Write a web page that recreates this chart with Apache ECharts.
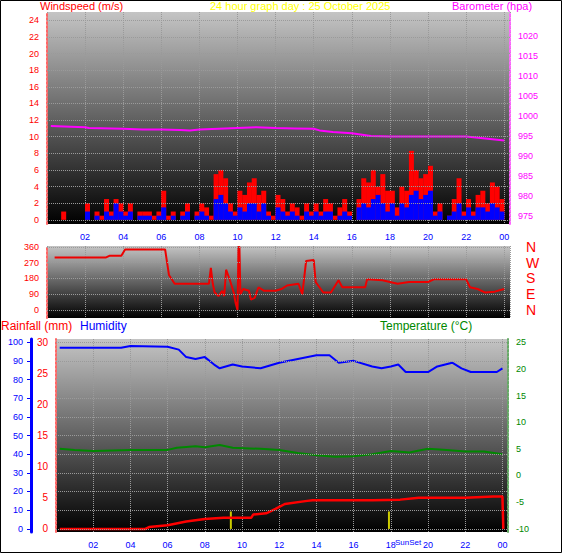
<!DOCTYPE html>
<html><head><meta charset="utf-8">
<script src="https://cdn.jsdelivr.net/npm/echarts@6/dist/echarts.min.js"></script>
<style>html,body{margin:0;padding:0;background:#fff}#c{width:566px;height:555px}</style>
</head><body><div id="c"></div>
<script>
// 15-minute wind values, 00:00 .. 23:45
var gust = [0,0,0,1, 0,0,0,0, 2,0,1,0.5, 2.5,1,2.5,2, 1,2,0,1, 1,1,0.5,1,
  3.5,0.5,1,0, 1,2,0,1, 2,1.5,0.5,5.5, 6,5,2,1, 3.5,3,4.5,5, 3,3.5,1,0.5,
  3,2.5,1,2, 1.5,0.5,2,1, 2,1,2.5,2, 0.5,1.5,2.5,1, 0,2.5,5,4.5, 6,4,5.5,3.5,
  3.5,1.5,4,3.5, 8.3,6,5,5.5, 6.5,1,2,0, 0.5,2.5,5,1, 2.5,1,3,3.5, 2,4.5,4,2.5];
var avg = [0,0,0,0, 0,0,0,0, 1,0,0.5,0, 1,0.5,2,1, 0.5,1,0,0.5, 0.5,0.5,0,0.5,
  1.5,0,0.5,0, 0.5,1,0,0.5, 1,0.5,0,2.5, 3,2,1,0.5, 1.5,1,2,2, 1,2,0.5,0,
  1.5,1,0.5,1, 0.5,0,1,0.5, 1,0.5,1,1, 0,0.5,1,0.5, 0,1.5,2,1.5, 2.5,3,2,1,
  2,0.5,2,1.5, 3,3.5,2.5,3, 3.5,0.5,1,0, 0.5,1,2,0.5, 1.5,0.5,1.5,1.5, 1,2,1.5,1];
var baroHours = [0.2,2,2.2,4,5,6,7,7.5,8,9,11,12,13,14,14.3,15,16,17,18,22,23,24];
var baro = [997.5,997.2,997,996.8,996.6,996.6,996.5,996.4,996.6,996.8,997.2,997,996.9,996.8,996.4,996,995.7,995,994.9,994.9,994.4,993.9];
var dirHours = [0.4,3.1,3.3,3.9,4.1,6.2,6.4,6.7,8.5,8.6,8.7,8.8,9.0,9.2,9.3,9.4,9.6,9.8,9.9,10.0,10.05,10.1,10.15,10.3,10.6,10.7,10.9,11.1,11.4,12.0,12.3,12.6,13.2,13.4,13.6,14.0,14.1,14.5,14.9,15.3,15.5,16.7,16.8,17.6,18.0,18.4,19.0,20.0,20.3,20.5,21.0,22.0,22.2,22.6,23.0,23.5,24.0];
var dir = [300,300,310,310,345,345,200,150,150,240,150,100,80,110,80,230,170,100,40,0,360,360,90,120,110,60,70,130,110,110,120,140,150,90,280,285,160,100,100,170,130,130,175,170,160,150,160,160,175,175,175,175,130,120,100,105,120];
var humHours = [0.2,3.5,4,6,6.6,7,7.5,8,8.5,8.8,9.5,10,11,12,13,14,14.7,15.2,16,17,17.5,18,18.4,18.8,19.5,20,20.5,21.3,21.8,22.3,23,23.7,24];
var hum = [97,97,98,97.5,96,92,91,92,88,86,88,87,86,89,91,93,93,89,90,87,86,87,88,84,84,84,87,89,86,84,84,84,86];
var tempHours = [0.2,1,2,4,6,6.5,7.5,8,8.8,9.5,11,12,13,14,15,16,17,18,19,20,21,22,23,24];
var temp = [5,4.8,4.6,4.8,4.8,5.2,5.5,5.3,5.7,5.2,5,4.8,4.2,3.8,3.5,3.6,4,4.6,4.3,5,4.8,4.5,4.5,4];
var rainHours = [0.2,4.8,5,6,7,8,9,10.5,10.6,11.3,11.8,12.3,13.5,13.8,17,18.5,19.5,22,23.5,24,24.05];
var rain = [0,0,0.3,0.6,1.2,1.6,1.8,1.8,2.3,2.5,3.2,4.0,4.5,4.6,4.6,4.7,5.0,5.0,5.2,5.2,0];
var sunHours = [9.4, 17.9];
var hourLabels = ['', '02','04','06','08','10','12','14','16','18','20','22','00'];
var windTicks = [0,2,4,6,8,10,12,14,16,18,20,22,24];
var baroTicks = [975,980,985,990,995,1000,1005,1010,1015,1020];
var dirTicks = [0,90,180,270,360];
var rainTicks = [0,5,10,15,20,25,30];
var humTicks = [0,10,20,30,40,50,60,70,80,90,100];
var tempTicks = [-10,-5,0,5,10,15,20,25];

function pairs(xs, ys) { return xs.map(function(x, i) { return [x, ys[i]]; }); }
function bg() {
  return { type: 'linear', x: 0, y: 0, x2: 0, y2: 1,
    colorStops: [{ offset: 0, color: '#c4c4c4' }, { offset: 1, color: '#000' }] };
}
var font = 'Liberation Sans';
var split = { show: true, lineStyle: { color: '#9a9a9a', type: 'dotted', width: 1 } };
function xAxis(idx, showLabel) {
  return { type: 'value', gridIndex: idx, min: 0, max: 24.3, interval: 2,
    axisLine: { show: false }, axisTick: { show: false }, splitLine: split,
    axisLabel: { show: showLabel, color: '#00f', fontSize: 9, fontFamily: font,
      formatter: function(v) { return hourLabels[v / 2] || ''; } } };
}
function yAxis(grid, min, max, ticks, pos, color, lineColor, size, extra) {
  var a = { type: 'value', gridIndex: grid, min: min, max: max, position: pos,
    axisLine: { show: true, lineStyle: { color: lineColor, type: 'dotted', width: 2 } },
    axisTick: { show: false }, splitLine: { show: false },
    axisLabel: { color: color, fontSize: size, fontFamily: font, customValues: ticks,
      formatter: function(v) { return String(v); } } };
  for (var k in extra) a[k] = extra[k];
  return a;
}
// horizontal dotted grid lines at the tick values of an axis
function gridLines(xi, yi, ticks) {
  return { type: 'line', xAxisIndex: xi, yAxisIndex: yi, data: [], silent: true,
    markLine: { silent: true, symbol: 'none', label: { show: false },
      lineStyle: { color: '#9a9a9a', type: 'dotted', width: 1 },
      data: ticks.map(function(v) { return { yAxis: v }; }) } };
}
var gustPts = gust.map(function(v, i) { return [i * 0.25 + 0.125, v]; });
var avgPts = avg.map(function(v, i) { return [i * 0.25 + 0.125, v]; });

var chart = echarts.init(document.getElementById('c'), null, { renderer: 'svg' });
chart.setOption({
  animation: false,
  backgroundColor: '#fff',
  grid: [
    { left: 47, right: 56, top: 12, height: 212, show: true, backgroundColor: bg(), borderWidth: 0 },
    { left: 47, right: 56, top: 246, height: 72, show: true, backgroundColor: bg(), borderWidth: 0 },
    { left: 56, right: 58, top: 339, height: 193, show: true, backgroundColor: bg(), borderWidth: 0 }
  ],
  xAxis: [xAxis(0, true), xAxis(1, false), xAxis(2, true)],
  yAxis: [
    yAxis(0, -0.5, 25, windTicks, 'left', '#f00', '#f66', 9, {}),
    yAxis(0, 973, 1026, baroTicks, 'right', '#f0f', '#f6f', 9, {}),
    yAxis(1, -45, 365, dirTicks, 'left', '#f00', '#f66', 9, {}),
    { type: 'value', gridIndex: 1, min: -45, max: 365, position: 'right', offset: 8,
      axisLine: { show: false }, axisTick: { show: false }, splitLine: { show: false },
      axisLabel: { color: '#f00', fontSize: 14, fontFamily: font, customValues: dirTicks,
        formatter: function(v) { return { 0: 'N', 90: 'E', 180: 'S', 270: 'W', 360: 'N' }[v]; } } },
    yAxis(2, -0.5, 30.5, rainTicks, 'left', '#f00', '#f66', 10, {}),
    yAxis(2, -1.7, 101.7, humTicks, 'left', '#00f', '#00f', 9, { offset: 25,
      axisLine: { show: true, lineStyle: { color: '#00f', width: 3 } },
      axisTick: { show: true, length: 4, customValues: humTicks, lineStyle: { color: '#00f' } } }),
    yAxis(2, -10.6, 25.6, tempTicks, 'right', '#080', '#6a6', 9, {})
  ],
  series: [
    gridLines(0, 0, windTicks),
    gridLines(1, 2, dirTicks),
    gridLines(2, 5, humTicks),
    { type: 'bar', xAxisIndex: 0, yAxisIndex: 0, data: gustPts, barWidth: 5, barGap: '-100%',
      itemStyle: { color: '#f00' } },
    { type: 'bar', xAxisIndex: 0, yAxisIndex: 0, data: avgPts, barWidth: 5, barGap: '-100%',
      itemStyle: { color: '#00f' } },
    { type: 'line', xAxisIndex: 0, yAxisIndex: 1, data: pairs(baroHours, baro), showSymbol: false,
      lineStyle: { color: '#f0f', width: 2 } },
    { type: 'line', xAxisIndex: 1, yAxisIndex: 2, data: pairs(dirHours, dir), showSymbol: false,
      lineStyle: { color: '#e00', width: 2 } },
    { type: 'line', xAxisIndex: 2, yAxisIndex: 5, data: pairs(humHours, hum), showSymbol: false,
      lineStyle: { color: '#00f', width: 2 } },
    { type: 'line', xAxisIndex: 2, yAxisIndex: 6, data: pairs(tempHours, temp), showSymbol: false,
      lineStyle: { color: '#080', width: 2 } },
    { type: 'line', xAxisIndex: 2, yAxisIndex: 4, data: pairs(rainHours, rain), showSymbol: false,
      lineStyle: { color: '#f00', width: 2.5 } },
    { type: 'bar', xAxisIndex: 2, yAxisIndex: 4, barWidth: 2,
      data: sunHours.map(function(h) { return [h, 2.8]; }), itemStyle: { color: '#cc0' } }
  ],
  graphic: [
    { type: 'rect', shape: { x: 0.5, y: 0.5, width: 561, height: 552 }, style: { fill: 'none', stroke: '#000', lineWidth: 1 } },
    { type: 'text', left: 40, top: 0, style: { text: 'Windspeed (m/s)', fill: '#f00', font: '11px Liberation Sans' } },
    { type: 'text', left: 210, top: 0, style: { text: '24 hour graph day : 25 October 2025', fill: '#ff0', font: '11px Liberation Sans' } },
    { type: 'text', left: 452, top: 0, style: { text: 'Barometer (hpa)', fill: '#f0f', font: '11px Liberation Sans' } },
    { type: 'text', left: 1, top: 320, style: { text: 'Rainfall (mm)', fill: '#f00', font: '12px Liberation Sans' } },
    { type: 'text', left: 80, top: 320, style: { text: 'Humidity', fill: '#00f', font: '12px Liberation Sans' } },
    { type: 'text', left: 380, top: 320, style: { text: 'Temperature (°C)', fill: '#080', font: '12px Liberation Sans' } },
    { type: 'text', left: 395, top: 538, style: { text: 'SunSet', fill: '#00f', font: '8px Liberation Sans' } }
  ]
});
</script></body></html>
